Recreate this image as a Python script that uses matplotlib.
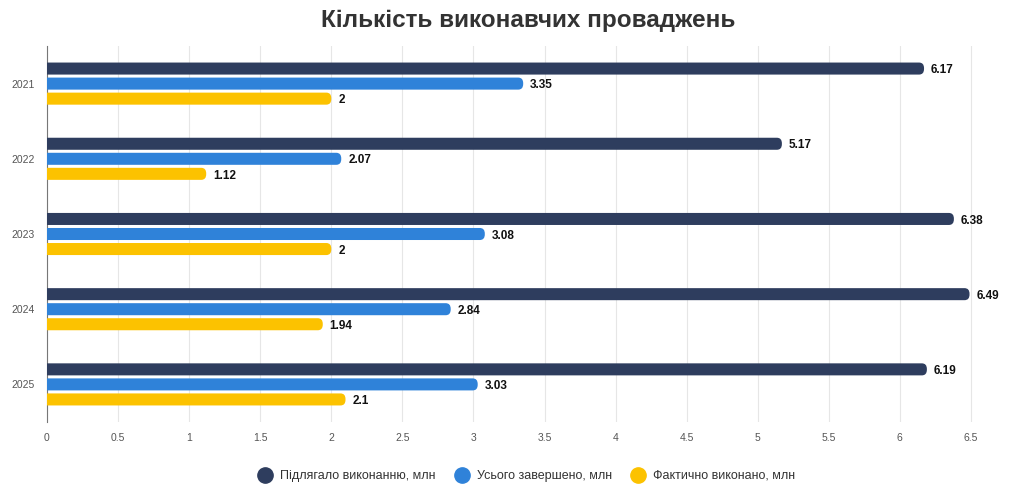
import matplotlib
matplotlib.use("Agg")
import matplotlib.pyplot as plt
from matplotlib.patches import FancyBboxPatch
from matplotlib.lines import Line2D
import numpy as np

plt.rcParams['font.family'] = ['Liberation Sans', 'DejaVu Sans']

years = ["2021", "2022", "2023", "2024", "2025"]
series_names = ["Підлягало виконанню, млн", "Усього завершено, млн", "Фактично виконано, млн"]
subject = [6.17, 5.17, 6.38, 6.49, 6.19]
completed = [3.35, 2.07, 3.08, 2.84, 3.03]
executed = [2, 1.12, 2, 1.94, 2.1]
labels_subject = ["6.17", "5.17", "6.38", "6.49", "6.19"]
labels_completed = ["3.35", "2.07", "3.08", "2.84", "3.03"]
labels_executed = ["2", "1.12", "2", "1.94", "2.1"]
colors = ["#2e3d5e", "#2f82d9", "#fcc200"]
xticks = np.arange(0, 6.51, 0.5)
xtick_labels = ["0", "0.5", "1", "1.5", "2", "2.5", "3", "3.5", "4", "4.5", "5", "5.5", "6", "6.5"]

fig = plt.figure(figsize=(10.24, 5.03), dpi=100)
ax = fig.add_axes([47/1024, 1-422/503, (988-47)/1024, (422-46)/503])
ax.set_xlim(0, 6.62)
ax.set_ylim(4.5, -0.5)

bar_h = 0.16
offsets = [-0.2, 0.0, 0.2]
all_vals = [subject, completed, executed]
all_labels = [labels_subject, labels_completed, labels_executed]
rx = 0.035
ry = 0.075
for si, (vals, labs) in enumerate(zip(all_vals, all_labels)):
    for i, (v, lab) in enumerate(zip(vals, labs)):
        yc = i + offsets[si]
        x0 = -0.1
        p = FancyBboxPatch((x0, yc - bar_h/2), v - x0, bar_h,
                           boxstyle=f"round,pad=0,rounding_size={rx}",
                           mutation_aspect=ry/rx,
                           facecolor=colors[si], edgecolor="none", zorder=3)
        ax.add_patch(p)
        ax.annotate(lab, (v, yc), xytext=(5, -1.2), textcoords="offset points",
                    va="center", ha="left", fontsize=8.5, fontweight="bold",
                    color="#111111", zorder=4)

ax.set_xticks(xticks)
ax.set_xticklabels(xtick_labels)
ax.set_yticks(range(len(years)))
ax.set_yticklabels(years)
ax.tick_params(axis="both", length=0, labelsize=7.5, colors="#555555")
ax.tick_params(axis="x", pad=8)
ax.tick_params(axis="y", pad=9)
ax.grid(axis="x", color="#e6e6e6", linewidth=0.8, zorder=0)
ax.set_axisbelow(True)
for s in ["top", "right", "bottom"]:
    ax.spines[s].set_visible(False)
ax.spines["left"].set_color("#777777")
ax.spines["left"].set_linewidth(0.8)

fig.text(528/1024, 1-21/503, "Кількість виконавчих проваджень", ha="center", va="center",
         fontsize=17.5, fontweight="bold", color="#333333")

handles = [Line2D([0], [0], marker="o", linestyle="none", markersize=11,
                  markerfacecolor=c, markeredgecolor=c) for c in colors]
fig.legend(handles, series_names, loc="center", bbox_to_anchor=(524/1024, 1-476/503),
           ncol=3, frameon=False, fontsize=9, handletextpad=0.2, columnspacing=1.1,
           labelcolor="#333333")

fig.savefig("out.png", dpi=100, facecolor="white")
